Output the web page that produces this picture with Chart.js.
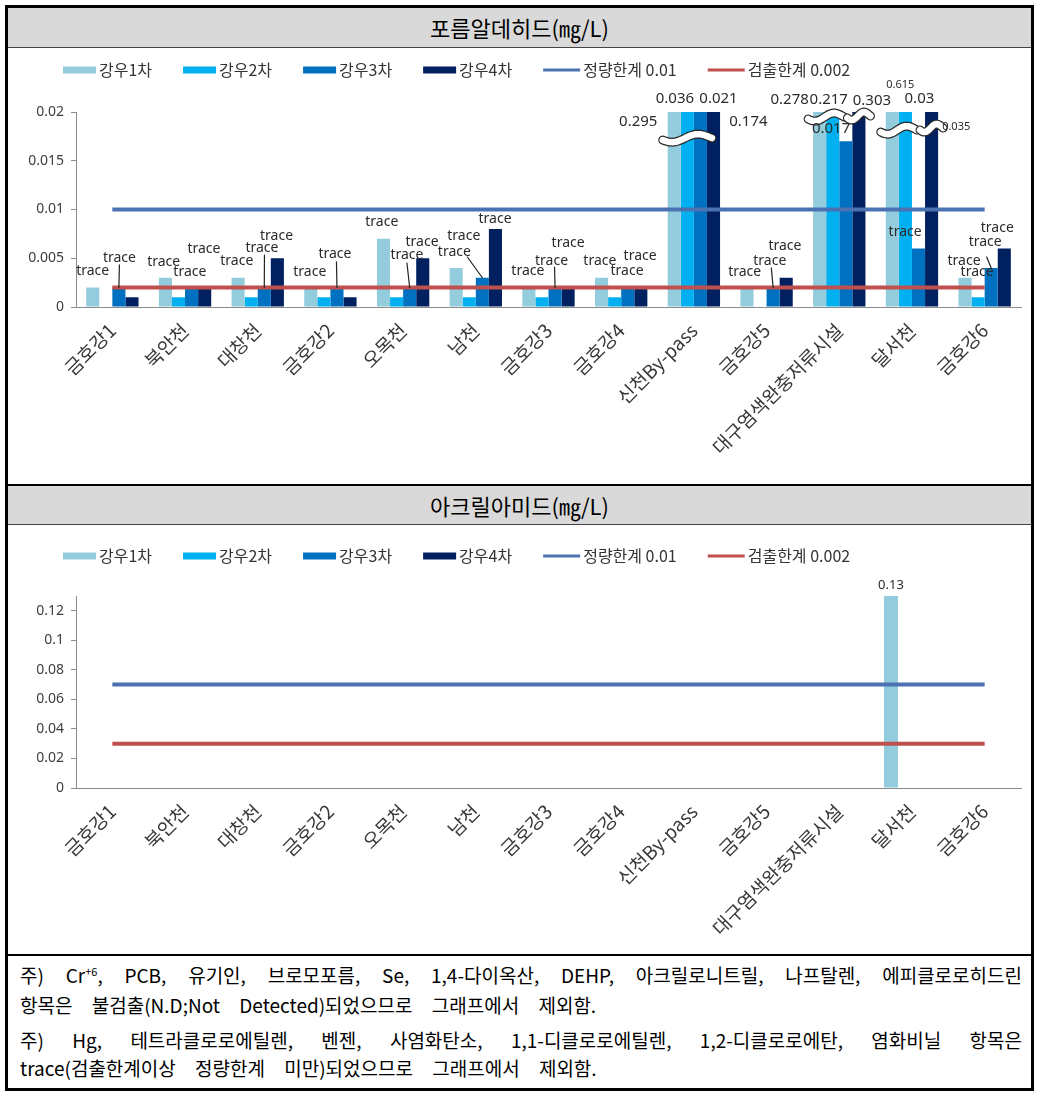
<!DOCTYPE html>
<html><head><meta charset="utf-8">
<script src="https://cdn.jsdelivr.net/npm/chart.js@4.4.0/dist/chart.umd.min.js"></script>
<style>
html,body{margin:0;padding:0;background:#fff;width:1047px;height:1094px;overflow:hidden;font-family:"Noto Sans CJK KR","Noto Sans",sans-serif;}
.abs{position:absolute;}
#frame{left:5px;top:5px;width:1029px;height:1086px;border:3px solid #000;box-sizing:border-box;}
.title{left:8px;width:1023px;background:#d9d9d9;text-align:center;font-size:22px;color:#000;box-sizing:border-box;border-bottom:1px solid #444;}
#t1{top:8px;height:40px;line-height:39px;}
#c1wrap{left:8px;top:48px;width:1023px;height:436px;}
#sep1{left:8px;top:484px;width:1023px;height:2px;background:#000;}
#t2{top:486px;height:39px;line-height:38px;}
#c2wrap{left:8px;top:525px;width:1023px;height:429px;}
#sep2{left:8px;top:954px;width:1023px;height:2px;background:#000;}
.note{left:20px;width:1002px;font-size:19px;line-height:22px;white-space:nowrap;color:#000;}
.just{text-align:justify;text-align-last:justify;}
.note sup{font-size:11px;line-height:0;}
</style></head>
<body>
<div id="frame" class="abs"></div>
<div id="t1" class="abs title">포름알데히드(㎎/L)</div>
<div id="c1wrap" class="abs"><canvas id="c1" width="1023" height="436"></canvas></div>
<div id="sep1" class="abs"></div>
<div id="t2" class="abs title">아크릴아미드(㎎/L)</div>
<div id="c2wrap" class="abs"><canvas id="c2" width="1023" height="429"></canvas></div>
<div id="sep2" class="abs"></div>
<div class="abs note just" style="top:964px;">주) Cr<sup>+6</sup>, PCB, 유기인, 브로모포름, Se, 1,4-다이옥산, DEHP, 아크릴로니트릴, 나프탈렌, 에피클로로히드린</div>
<div class="abs note" style="top:994px;word-spacing:15px;">항목은 불검출(N.D;Not Detected)되었으므로 그래프에서 제외함.</div>
<div class="abs note just" style="top:1029px;">주) Hg, 테트라클로로에틸렌, 벤젠, 사염화탄소, 1,1-디클로로에틸렌, 1,2-디클로로에탄, 염화비닐 항목은</div>
<div class="abs note" style="top:1057px;word-spacing:15px;">trace(검출한계이상 정량한계 미만)되었으므로 그래프에서 제외함.</div>
<script>
// ---------- data ----------
const categories = ['금호강1','북안천','대창천','금호강2','오목천','남천','금호강3','금호강4','신천By-pass','금호강5','대구염색완충저류시설','달서천','금호강6'];
const seriesNames = ['강우1차','강우2차','강우3차','강우4차','정량한계 0.01','검출한계 0.002'];

// 포름알데히드 (mg/L)
const form1 = [0.002, 0.003, 0.003, 0.002, 0.007, 0.004, 0.002, 0.003, 0.295, 0.002, 0.278, 0.615, 0.003];
const form2 = [null,  0.001, 0.001, 0.001, 0.001, 0.001, 0.001, 0.001, 0.036, null,  0.217, 0.03,  0.001];
const form3 = [0.002, 0.002, 0.002, 0.002, 0.002, 0.003, 0.002, 0.002, 0.174, 0.002, 0.017, 0.006, 0.004];
const form4 = [0.001, 0.002, 0.005, 0.001, 0.005, 0.008, 0.002, 0.002, 0.021, 0.003, 0.303, 0.035, 0.006];
const formQuant  = [0.01, 0.01, 0.01, 0.01, 0.01, 0.01, 0.01, 0.01, 0.01, 0.01, 0.01, 0.01, 0.01];
const formDetect = [0.002, 0.002, 0.002, 0.002, 0.002, 0.002, 0.002, 0.002, 0.002, 0.002, 0.002, 0.002, 0.002];
const formTicks = [0, 0.005, 0.01, 0.015, 0.02];

// 아크릴아미드 (mg/L)
const acr1 = [null, null, null, null, null, null, null, null, null, null, null, 0.13, null];
const acr2 = [null, null, null, null, null, null, null, null, null, null, null, null, null];
const acr3 = [null, null, null, null, null, null, null, null, null, null, null, null, null];
const acr4 = [null, null, null, null, null, null, null, null, null, null, null, null, null];
const acrQuant  = [0.07, 0.07, 0.07, 0.07, 0.07, 0.07, 0.07, 0.07, 0.07, 0.07, 0.07, 0.07, 0.07];
const acrDetect = [0.03, 0.03, 0.03, 0.03, 0.03, 0.03, 0.03, 0.03, 0.03, 0.03, 0.03, 0.03, 0.03];
const acrTicks = [0, 0.02, 0.04, 0.06, 0.08, 0.1, 0.12];

// data-label annotations: dataset, category, text, value-position, x offset from bar
const formLabels = [
  {ds:0,cat:0,t:'trace',v:0.00369,dx:0},
  {ds:2,cat:0,t:'trace',v:0.00503,dx:0.5,lead:[0,7]},
  {ds:0,cat:1,t:'trace',v:0.00462,dx:-1.7},
  {ds:2,cat:1,t:'trace',v:0.00359,dx:-1.7},
  {ds:3,cat:1,t:'trace',v:0.00595,dx:-0.7},
  {ds:0,cat:2,t:'trace',v:0.00472,dx:-1.3},
  {ds:2,cat:2,t:'trace',v:0.00605,dx:-2.3,lead:[2.5,7]},
  {ds:3,cat:2,t:'trace',v:0.00728,dx:-0.8},
  {ds:0,cat:3,t:'trace',v:0.00359,dx:-1},
  {ds:2,cat:3,t:'trace',v:0.00544,dx:-2,lead:[1.5,8]},
  {ds:0,cat:4,t:'trace',v:0.00872,dx:-1.7},
  {ds:3,cat:4,t:'trace',v:0.00667,dx:-0.7},
  {ds:2,cat:4,t:'trace',v:0.00533,dx:-2.7,lead:[0,8]},
  {ds:0,cat:5,t:'trace',v:0.00728,dx:7.6},
  {ds:2,cat:5,t:'trace',v:0.00564,dx:-28,lead:[13,5]},
  {ds:3,cat:5,t:'trace',v:0.00903,dx:-0.4},
  {ds:0,cat:6,t:'trace',v:0.00369,dx:-1},
  {ds:2,cat:6,t:'trace',v:0.00472,dx:-3.5,lead:[3,6]},
  {ds:3,cat:6,t:'trace',v:0.00656,dx:0},
  {ds:0,cat:7,t:'trace',v:0.00472,dx:-1.7},
  {ds:3,cat:7,t:'trace',v:0.00523,dx:-0.7},
  {ds:2,cat:7,t:'trace',v:0.00369,dx:-0.7},
  {ds:0,cat:9,t:'trace',v:0.00359,dx:-2.3},
  {ds:2,cat:9,t:'trace',v:0.00472,dx:-3.3,lead:[1.5,7]},
  {ds:3,cat:9,t:'trace',v:0.00626,dx:-1.3},
  {ds:2,cat:11,t:'trace',v:0.00769,dx:-13.4},
  {ds:0,cat:12,t:'trace',v:0.00472,dx:-1},
  {ds:1,cat:12,t:'trace',v:0.00359,dx:-1},
  {ds:2,cat:12,t:'trace',v:0.00667,dx:-6,lead:[1.5,15]},
  {ds:3,cat:12,t:'trace',v:0.0081,dx:-7},
  {ds:0,cat:8,t:'0.295',v:0.01897,dx:-36,big:1},
  {ds:1,cat:8,t:'0.036',v:0.02133,dx:-12.4,big:1},
  {ds:2,cat:8,t:'0.174',v:0.01897,dx:48,big:1},
  {ds:3,cat:8,t:'0.021',v:0.02133,dx:5,big:1},
  {ds:0,cat:10,t:'0.278',v:0.02123,dx:-30,big:1},
  {ds:1,cat:10,t:'0.217',v:0.02123,dx:-4,big:1},
  {ds:2,cat:10,t:'0.017',v:0.01826,dx:-14.7,big:1},
  {ds:3,cat:10,t:'0.303',v:0.02113,dx:13,big:1},
  {ds:0,cat:11,t:'0.615',v:0.02277,dx:8,small:1},
  {ds:1,cat:11,t:'0.03',v:0.02133,dx:14,big:1},
  {ds:3,cat:11,t:'0.035',v:0.01846,dx:24.6,small:1}
];
// axis-break marks on truncated bars
const formBreaks = [
  {cat:8,from:0,to:2,v:0.01733},
  {cat:10,from:0,to:1,v:0.01949},
  {cat:10,from:3,to:3,v:0.01959},
  {cat:11,from:0,to:1,v:0.01815},
  {cat:11,from:3,to:3,v:0.01836}
];
const acrLabels = [{ds:0,cat:11,t:'0.13',dy:-11,mid:1}];

const colors = ['#93CDDD','#00B0F0','#0070C0','#002060','#4A72B2','#C0504D'];

// ---------- plugins ----------
const annotPlugin = {
  id:'annot',
  afterDatasetsDraw(chart, args, opts){
    const ctx = chart.ctx, ys = chart.scales.y;
    ctx.save();
    (opts.breaks||[]).forEach(b=>{
      const m0 = chart.getDatasetMeta(b.from).data[b.cat];
      const m1 = chart.getDatasetMeta(b.to).data[b.cat];
      const x0 = m0.x - m0.width/2 - 5, x1 = m1.x + m1.width/2 + 5;
      const yc = ys.getPixelForValue(b.v);
      const path = ()=>{ ctx.beginPath(); const n=30;
        for(let i=0;i<=n;i++){ const t=i/n; const px=x0+(x1-x0)*t; const py=yc+3.5*Math.sin(t*2*Math.PI+0.3) - 2*(t-0.5);
          if(i===0) ctx.moveTo(px,py); else ctx.lineTo(px,py);} };
      ctx.lineCap='round';
      ctx.lineWidth=9; ctx.strokeStyle='#2a2a2a'; path(); ctx.stroke();
      ctx.lineWidth=6.5; ctx.strokeStyle='#ffffff'; path(); ctx.stroke();
    });
    (opts.labels||[]).forEach(l=>{
      const el = chart.getDatasetMeta(l.ds).data[l.cat];
      const x = el.x + (l.dx||0);
      const y = (l.v!==undefined ? ys.getPixelForValue(l.v) : el.y) + (l.dy||0);
      ctx.font = l.small ? '11px "Noto Sans"' : (l.big ? '15px "Noto Sans"' : (l.mid ? '13px "Noto Sans"' : '14px "Noto Sans"'));
      ctx.fillStyle = '#2b2b2b'; ctx.textAlign='center'; ctx.textBaseline='middle';
      ctx.fillText(l.t, x, y);
      if(l.lead){
        ctx.strokeStyle='#222'; ctx.lineWidth=1.2; ctx.beginPath();
        ctx.moveTo(x + l.lead[0], y + l.lead[1]); ctx.lineTo(el.x, el.y); ctx.stroke();
      }
    });
    ctx.restore();
  }
};
const legendPlugin = {
  id:'customLegend',
  afterDraw(chart, args, opts){
    const ctx = chart.ctx; ctx.save();
    ctx.font = '16px "Noto Sans CJK KR"'; ctx.textBaseline='middle'; ctx.textAlign='left';
    let x = opts.x; const y = opts.y;
    chart.data.datasets.forEach(ds=>{
      if(ds.type==='line'){
        ctx.strokeStyle=ds.borderColor; ctx.lineWidth=3; ctx.beginPath(); ctx.moveTo(x,y); ctx.lineTo(x+37,y); ctx.stroke(); x+=37;
      } else {
        ctx.fillStyle=ds.backgroundColor; ctx.fillRect(x,y-3.5,33,7); x+=33;
      }
      x+=3;
      ctx.fillStyle='#333'; ctx.fillText(ds.label,x,y);
      x+=ctx.measureText(ds.label).width+opts.gap;
    });
    ctx.restore();
  }
};

function makeChart(id, bars, lines, ticks, yMax, padTop, xHeight, catPct, labels, breaks, legendY){
  const datasets = bars.map((d,i)=>({type:'bar',label:seriesNames[i],data:d,backgroundColor:colors[i],order:2,
    categoryPercentage:catPct,barPercentage:1.0}));
  lines.forEach((d,i)=>datasets.push({type:'line',label:seriesNames[4+i],data:d,borderColor:colors[4+i],backgroundColor:colors[4+i],
    borderWidth:4,pointRadius:0,order:1,fill:false,tension:0}));
  return new Chart(document.getElementById(id),{
    data:{labels:categories,datasets},
    options:{
      responsive:false,animation:false,devicePixelRatio:1,
      layout:{padding:{top:padTop,right:10,left:0,bottom:0}},
      plugins:{legend:{display:false},tooltip:{enabled:false},
        annot:{labels,breaks},customLegend:{x:55,y:legendY,gap:31}},
      scales:{
        x:{type:'category',offset:true,grid:{display:false},border:{display:true,color:'#8c8c8c'},
          ticks:{minRotation:45,maxRotation:45,autoSkip:false,padding:4,color:'#383838',font:{size:19,family:'"Noto Sans CJK KR"'}},
          afterFit(s){s.height=xHeight;}},
        y:{type:'linear',min:0,max:yMax,
          afterBuildTicks(s){s.ticks=ticks.map(v=>({value:v}));},
          grid:{drawOnChartArea:false,drawTicks:true,tickLength:5,color:'#8c8c8c'},
          border:{display:true,color:'#8c8c8c'},
          ticks:{padding:7,color:'#404040',font:{size:14,family:'"Noto Sans"'},callback:v=>String(+Number(v).toFixed(3))},
          afterFit(s){s.width=68;}}
      }
    },
    plugins:[annotPlugin,legendPlugin]
  });
}

makeChart('c1',[form1,form2,form3,form4],[formQuant,formDetect],formTicks,0.02,64,177,0.72,formLabels,formBreaks,22);
makeChart('c2',[acr1,acr2,acr3,acr4],[acrQuant,acrDetect],acrTicks,0.13,71,166,0.77,acrLabels,[],31);
</script>
</body></html>
